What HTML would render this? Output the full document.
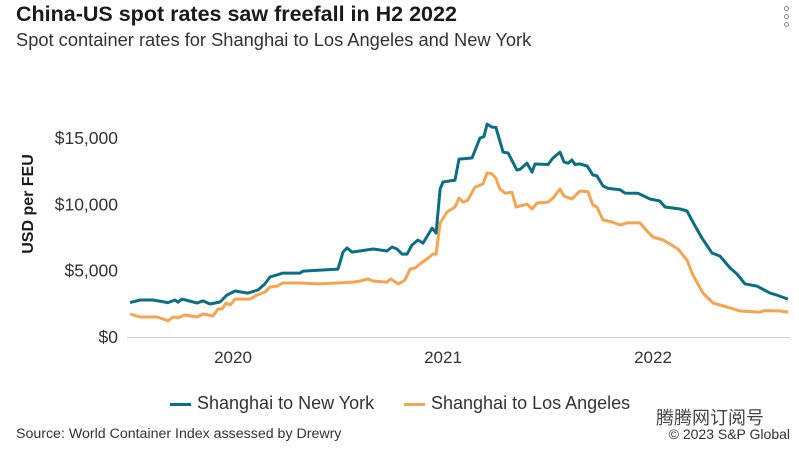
<!DOCTYPE html>
<html><head><meta charset="utf-8"><style>
html,body{margin:0;padding:0;background:#fff;}
body{width:799px;height:450px;overflow:hidden;position:relative;font-family:"Liberation Sans","DejaVu Sans",sans-serif;color:#222;}
.t{position:absolute;white-space:nowrap;}
</style></head><body>
<div class="t" style="left:16px;top:2px;font-size:21.5px;font-weight:bold;color:#1a1a1a;">China-US spot rates saw freefall in H2 2022</div>
<div class="t" style="left:16px;top:29px;font-size:18.3px;color:#333;">Spot container rates for Shanghai to Los Angeles and New York</div>
<div style="position:absolute;left:782px;top:4px;width:8px;height:26px;">
<div style="position:absolute;left:2px;top:2px;width:3px;height:3px;border:1px solid #888;border-radius:50%"></div>
<div style="position:absolute;left:2px;top:10px;width:3px;height:3px;border:1px solid #888;border-radius:50%"></div>
<div style="position:absolute;left:2px;top:18px;width:3px;height:3px;border:1px solid #888;border-radius:50%"></div>
</div>
<svg id="chart" width="799" height="450" style="position:absolute;left:0;top:0;font-family:'Liberation Sans',sans-serif;">
<text transform="translate(33,204) rotate(-90)" text-anchor="middle" font-size="16" font-weight="bold" fill="#1a1a1a">USD per FEU</text>
<g id="yticks"></g><g id="xticks"></g><g id="lines"></g>
</svg>
<div>
<div class="t" style="left:170px;top:393px;font-size:18px;color:#333;"><span style="display:inline-block;width:21px;height:3px;background:#0c6e84;vertical-align:middle;margin-right:6px;"></span>Shanghai to New York</div>
<div class="t" style="left:404px;top:393px;font-size:18px;color:#333;"><span style="display:inline-block;width:21px;height:3px;background:#f5a54f;vertical-align:middle;margin-right:6px;"></span>Shanghai to Los Angeles</div>
</div>
<div class="t" style="left:656px;top:404px;font-size:18px;color:#444;font-family:'Liberation Sans','Noto Sans CJK SC',sans-serif;">腾腾网订阅号</div>
<div class="t" style="left:16px;top:426px;font-size:14.2px;color:#333;">Source: World Container Index assessed by Drewry</div>
<div class="t" style="right:9px;top:426px;font-size:14px;color:#333;">© 2023 S&amp;P Global</div>
<script>
const yTicks=[0,5000,10000,15000];
const yTickLabels=["$0","$5,000","$10,000","$15,000"];
const xTicks=[2020,2021,2022];
const xTickLabels=["2020","2021","2022"];
const nyDates=[2019.51,2019.557,2019.619,2019.69,2019.724,2019.738,2019.757,2019.829,2019.857,2019.89,2019.938,2019.971,2020.01,2020.071,2020.119,2020.152,2020.176,2020.238,2020.319,2020.333,2020.5,2020.524,2020.543,2020.567,2020.667,2020.733,2020.757,2020.781,2020.805,2020.829,2020.852,2020.881,2020.905,2020.948,2020.967,2020.986,2021.0,2021.057,2021.076,2021.138,2021.176,2021.195,2021.21,2021.233,2021.252,2021.286,2021.31,2021.352,2021.367,2021.4,2021.424,2021.438,2021.5,2021.524,2021.557,2021.576,2021.595,2021.614,2021.629,2021.652,2021.686,2021.714,2021.733,2021.762,2021.786,2021.843,2021.867,2021.929,2021.986,2022.033,2022.057,2022.129,2022.162,2022.19,2022.233,2022.281,2022.319,2022.367,2022.4,2022.438,2022.495,2022.557,2022.59,2022.643];
const nyValues=[2590,2790,2790,2590,2790,2620,2860,2560,2720,2490,2640,3160,3470,3310,3540,4000,4520,4820,4820,4970,5120,6400,6710,6400,6630,6480,6780,6630,6250,6250,6930,7310,7080,8210,7840,11150,11680,11830,13410,13490,15000,15100,16050,15820,15800,13940,13870,12580,12650,13110,12430,13040,13000,13490,13940,13190,13100,13340,13000,13050,12890,12210,12150,11380,11200,11100,10850,10830,10400,10250,9800,9650,9500,8670,7460,6330,6100,5200,4750,4000,3840,3310,3160,2860];
const laDates=[2019.51,2019.557,2019.638,2019.667,2019.69,2019.714,2019.738,2019.771,2019.829,2019.857,2019.905,2019.929,2019.948,2019.967,2019.986,2020.01,2020.081,2020.114,2020.152,2020.176,2020.21,2020.238,2020.319,2020.414,2020.571,2020.605,2020.643,2020.667,2020.733,2020.752,2020.786,2020.819,2020.843,2020.867,2020.89,2020.929,2020.952,2020.967,2020.986,2021.019,2021.057,2021.076,2021.095,2021.119,2021.152,2021.19,2021.21,2021.233,2021.252,2021.271,2021.295,2021.329,2021.348,2021.4,2021.424,2021.448,2021.5,2021.524,2021.557,2021.576,2021.614,2021.652,2021.69,2021.714,2021.733,2021.762,2021.805,2021.843,2021.876,2021.938,2021.976,2022.0,2022.048,2022.119,2022.162,2022.19,2022.238,2022.286,2022.367,2022.414,2022.51,2022.533,2022.605,2022.643];
const laValues=[1730,1510,1510,1360,1210,1510,1440,1660,1510,1730,1580,2110,2110,2560,2410,2860,2860,3160,3390,3770,3840,4070,4070,4000,4140,4220,4370,4220,4140,4370,4000,4300,5120,5200,5500,5950,6250,6250,8590,9420,9800,10470,10170,10320,11300,11530,12360,12300,11960,11150,10850,10900,9800,10020,9650,10100,10170,10470,11150,10620,10400,11000,10950,9950,9800,8820,8670,8440,8600,8600,7910,7540,7310,6630,5800,4670,3310,2560,2190,1960,1880,2000,1960,1880];

const NS='http://www.w3.org/2000/svg';
const X=t=>233+(t-2020)*210;
const Y=v=>337-v*0.013267;
function mk(tag,attrs,parent){const e=document.createElementNS(NS,tag);for(const k in attrs)e.setAttribute(k,attrs[k]);parent.appendChild(e);return e;}
const yg=document.getElementById('yticks');
yTicks.forEach((v,i)=>{
  const t=mk('text',{x:118,y:Y(v)+6,'text-anchor':'end','font-size':17.5,fill:'#333'},yg);
  
  
  t.textContent=yTickLabels[i];
});
const base=mk('line',{x1:127,x2:790,y1:Y(0)+0.5,y2:Y(0)+0.5,stroke:'#d0d0d0','stroke-width':1},yg);


const xg=document.getElementById('xticks');
xTicks.forEach((v,i)=>{
  const t=mk('text',{x:X(v),y:363,'text-anchor':'middle','font-size':17,fill:'#333'},xg);
  
  
  t.textContent=xTickLabels[i];
});
const lg=document.getElementById('lines');
function line(d,v,c,name){
  const p=mk('polyline',{points:d.map((t,i)=>X(t).toFixed(1)+','+Y(v[i]).toFixed(1)).join(' '),fill:'none',stroke:c,'stroke-width':3,'stroke-linejoin':'round'},lg);
  
  
}
line(laDates,laValues,'#f5a54f','los-angeles-line');
line(nyDates,nyValues,'#0c6e84','new-york-line');
</script>
</body></html>
